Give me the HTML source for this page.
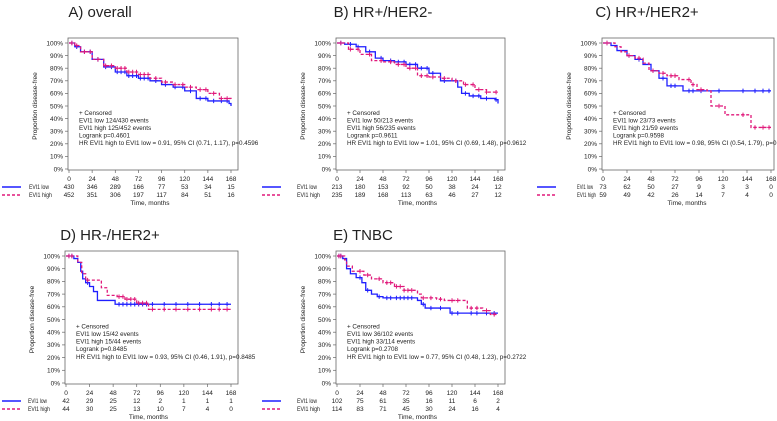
<!DOCTYPE html>
<html><head><meta charset="utf-8">
<style>
html,body{margin:0;padding:0;background:#fff;}
svg{display:block;font-family:"Liberation Sans",sans-serif;}
</style></head>
<body>
<svg id="fig" width="777" height="421" viewBox="0 0 777 421" xmlns="http://www.w3.org/2000/svg"></svg>
<script>
// ---- data ----
const tickMonths = [0,24,48,72,96,120,144,168];
const yTicks = [0,10,20,30,40,50,60,70,80,90,100];

const aLowT = [0,6,12,24,36,48,60,72,84,96,108,120,132,144,156,166,168];
const aLowS = [1,.97,.93,.87,.81,.77,.74,.72,.70,.67,.65,.62,.56,.54,.54,.52,.50];
const aHighT = [0,6,12,24,36,48,60,72,84,96,108,120,132,144,156,168];
const aHighS = [1,.98,.93,.87,.82,.80,.77,.75,.72,.69,.67,.65,.63,.60,.56,.55];
const aCens = [3,8,16,22,30,38,44,50,54,58,62,66,70,74,78,82,90,100,110,118,126,136,142,150,158,164];
const aLowRisk = [430,346,289,166,77,53,34,15];
const aHighRisk = [452,351,306,197,117,84,51,16];

const bLowT = [0,8,20,30,40,48,60,72,84,96,108,120,126,130,138,150,165,168];
const bLowS = [1,.99,.97,.93,.88,.86,.85,.83,.80,.76,.70,.70,.65,.60,.58,.56,.55,.52];
const bHighT = [0,12,24,36,48,60,72,84,96,108,120,132,144,156,168];
const bHighS = [1,.95,.91,.86,.85,.83,.80,.74,.73,.72,.70,.67,.63,.61,.61];
const bCens = [4,14,22,34,46,56,64,70,76,82,88,94,100,112,124,134,142,148,156,166];
const bLowRisk = [213,180,153,92,50,38,24,12];
const bHighRisk = [235,189,168,113,63,46,27,12];

const cLowT = [0,8,14,24,32,40,48,56,64,76,80,168];
const cLowS = [1,.98,.94,.90,.87,.83,.78,.72,.66,.66,.62,.62];
const cHighT = [0,12,18,24,32,40,46,56,64,76,88,94,104,108,122,144,148,168];
const cHighS = [1,.97,.93,.90,.88,.84,.78,.76,.74,.71,.67,.63,.62,.50,.43,.43,.33,.33];
const cCens = [4,26,36,50,60,68,72,86,90,98,116,140,152,160,166];
const cLowRisk = [73,62,50,27,9,3,3,0];
const cHighRisk = [59,49,42,26,14,7,4,0];

const dLowT = [0,8,12,15,17,20,24,28,32,48,50,168];
const dLowS = [1,.98,.95,.88,.82,.79,.76,.72,.65,.65,.62,.62];
const dHighT = [0,12,16,20,30,36,42,52,60,72,84,168];
const dHighS = [1,.95,.86,.81,.81,.75,.69,.68,.66,.63,.58,.58];
const dCens = [3,6,22,54,58,62,66,70,74,78,82,88,100,112,124,136,148,156,164];
const dLowRisk = [42,29,25,12,2,1,1,1];
const dHighRisk = [44,30,25,13,10,7,4,0];

const eLowT = [0,6,10,14,20,26,30,36,42,48,60,84,88,92,116,118,168];
const eLowS = [1,.98,.90,.86,.83,.79,.73,.70,.68,.67,.67,.65,.62,.59,.59,.55,.55];
const eHighT = [0,8,10,16,28,36,48,60,70,84,88,104,112,128,136,152,160,168];
const eHighS = [1,.97,.92,.88,.85,.82,.79,.76,.73,.70,.67,.66,.65,.65,.59,.57,.54,.54];
const eCens = [2,4,24,32,44,52,56,62,66,70,74,78,90,98,108,120,126,140,146,156,164];
const eLowRisk = [102,75,61,35,16,11,6,2];
const eHighRisk = [114,83,71,45,30,24,16,4];

const NS="http://www.w3.org/2000/svg";
const svg=document.getElementById('fig');
function mk(tag,attrs,parent){const e=document.createElementNS(NS,tag);for(const k in attrs)e.setAttribute(k,attrs[k]);(parent||svg).appendChild(e);return e;}
function txt(s,x,y,size,anchor,parent){const t=mk('text',{x:x,y:y,'font-size':size,'text-anchor':anchor||'start',fill:'#222'},parent);t.textContent=s;return t;}
function stepAt(T,S,t){let v=S[0];for(let i=0;i<T.length;i++){if(T[i]<=t)v=S[i];}return v;}

function panel(cfg){
  const g=mk('g',{});
  
  
  const X=t=>cfg.x0+(cfg.x1-cfg.x0)*t/168;
  const Y=s=>cfg.y0-(cfg.y0-cfg.y1)*s;
  const ti=txt(cfg.title,cfg.tx,cfg.ty,15,'middle',g);
  
  
  const fr=mk('rect',{x:cfg.x0-1,y:cfg.y1-5,width:cfg.right-cfg.x0+1,height:cfg.y0-cfg.y1+6,fill:'none',stroke:'#666','stroke-width':0.8},g);
  
  
  yTicks.forEach(v=>{
    const y=Y(v/100);
    mk('line',{x1:cfg.x0-4,x2:cfg.x0-1,y1:y,y2:y,stroke:'#666','stroke-width':0.7},g);
    const l=txt(v+'%',cfg.x0-6,y+2.3,6.5,'end',g);
    
    
  });
  tickMonths.forEach(m=>{
    const x=X(m);
    mk('line',{x1:x,x2:x,y1:cfg.y0+1,y2:cfg.y0+4,stroke:'#666','stroke-width':0.7},g);
    const l=txt(String(m),x,cfg.y0+12,6.5,'middle',g);
    
    
  });
  const yt=txt('Proportion disease-free',0,0,6.5,'middle',g);
  yt.setAttribute('transform','translate('+(cfg.x0-32)+','+((cfg.y0+cfg.y1)/2)+') rotate(-90)');
  
  
  function curve(T,S,color,dash,nm){
    let d='M'+X(T[0])+','+Y(S[0]);
    for(let i=1;i<T.length;i++){d+=' H'+X(T[i])+' V'+Y(S[i]);}
    const p=mk('path',{d:d,fill:'none',stroke:color,'stroke-width':1.3},g);
    if(dash)p.setAttribute('stroke-dasharray','3,2');
    
    
    cfg.cens.forEach(c=>{
      if(c>T[T.length-1])return;
      const x=X(c),y=Y(stepAt(T,S,c));
      const m=mk('path',{d:'M'+(x-1.8)+','+y+' H'+(x+1.8)+' M'+x+','+(y-2.2)+' V'+(y+2.2),stroke:color,'stroke-width':1},g);
      
      
    });
  }
  curve(cfg.lowT,cfg.lowS,'#1f1fff',false,'evi1-low-curve');
  curve(cfg.highT,cfg.highS,'#e0187a',true,'evi1-high-curve');
  const st=['+ Censored','EVI1 low  '+cfg.s[0],'EVI1 high  '+cfg.s[1],'Logrank p='+cfg.s[2],'HR EVI1 high to EVI1 low = '+cfg.s[3]];
  st.forEach((s,i)=>{
    const l=txt(s,cfg.x0+10,Y(0.43)+i*7.6,6.3,'start',g);
    
    
  });
  const r1=cfg.y0+20,r2=cfg.y0+28;
  const ll=mk('line',{x1:cfg.lx,x2:cfg.lx+19,y1:r1-2,y2:r1-2,stroke:'#1f1fff','stroke-width':1.5},g);
  
  
  const lh=mk('line',{x1:cfg.lx,x2:cfg.lx+19,y1:r2-2,y2:r2-2,stroke:'#e0187a','stroke-width':1.5,'stroke-dasharray':'3,2'},g);
  
  
  const a=txt('EVI1 low',cfg.lab,r1,6.3,'start',g);
  a.setAttribute('textLength',cfg.lw);
  a.setAttribute('lengthAdjust','spacingAndGlyphs');
  
  
  const b=txt('EVI1 high',cfg.lab,r2,6.3,'start',g);
  b.setAttribute('textLength',cfg.lw+3);
  b.setAttribute('lengthAdjust','spacingAndGlyphs');
  
  
  tickMonths.forEach((m,i)=>{
    const n1=txt(String(cfg.lowRisk[i]),X(m),r1,6.5,'middle',g);
    
    
    const n2=txt(String(cfg.highRisk[i]),X(m),r2,6.5,'middle',g);
    
    
  });
  const xt=txt('Time, months',(cfg.x0+cfg.x1)/2,r2+8,6.5,'middle',g);
  
  
}

panel({name:'panel-a-overall',title:'A) overall',tx:100,ty:17,x0:69,x1:231,right:238,y0:169,y1:43,lx:2,lab:29,lw:20,
  lowT:aLowT,lowS:aLowS,highT:aHighT,highS:aHighS,cens:aCens,lowRisk:aLowRisk,highRisk:aHighRisk,
  s:['124/430 events','125/452 events','0.4601','0.91, 95% CI (0.71, 1.17),  p=0.4596']});
panel({name:'panel-b-hr-pos-her2-neg',title:'B) HR+/HER2-',tx:383,ty:17,x0:337,x1:498,right:505,y0:169,y1:43,lx:262,lab:297,lw:20,
  lowT:bLowT,lowS:bLowS,highT:bHighT,highS:bHighS,cens:bCens,lowRisk:bLowRisk,highRisk:bHighRisk,
  s:['50/213 events','56/235 events','0.9611','1.01, 95% CI (0.69, 1.48),  p=0.9612']});
panel({name:'panel-c-hr-pos-her2-pos',title:'C) HR+/HER2+',tx:647,ty:17,x0:603,x1:771,right:774,y0:169,y1:43,lx:537,lab:577,lw:16,
  lowT:cLowT,lowS:cLowS,highT:cHighT,highS:cHighS,cens:cCens,lowRisk:cLowRisk,highRisk:cHighRisk,
  s:['23/73 events','21/59 events','0.9598','0.98, 95% CI (0.54, 1.79),  p=0.9598']});
panel({name:'panel-d-hr-neg-her2-pos',title:'D) HR-/HER2+',tx:110,ty:240,x0:66,x1:231,right:238,y0:383,y1:256,lx:2,lab:28,lw:19,
  lowT:dLowT,lowS:dLowS,highT:dHighT,highS:dHighS,cens:dCens,lowRisk:dLowRisk,highRisk:dHighRisk,
  s:['15/42 events','15/44 events','0.8485','0.93, 95% CI (0.46, 1.91),  p=0.8485']});
panel({name:'panel-e-tnbc',title:'E) TNBC',tx:363,ty:240,x0:337,x1:498,right:505,y0:383,y1:256,lx:262,lab:297,lw:20,
  lowT:eLowT,lowS:eLowS,highT:eHighT,highS:eHighS,cens:eCens,lowRisk:eLowRisk,highRisk:eHighRisk,
  s:['36/102 events','33/114 events','0.2708','0.77, 95% CI (0.48, 1.23),  p=0.2722']});
</script>
</body></html>
